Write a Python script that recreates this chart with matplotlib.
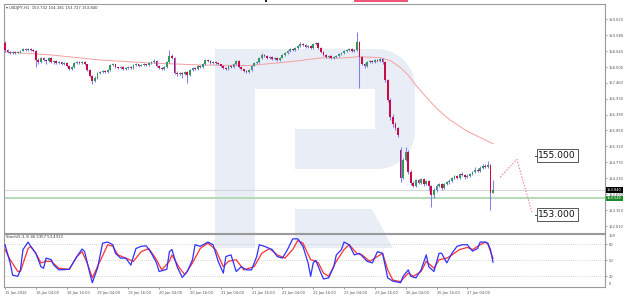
import matplotlib
matplotlib.use("Agg")
import matplotlib.pyplot as plt
from matplotlib.patches import Polygon, Rectangle
import numpy as np

# ---------------- data ----------------
first_open = 158.82
open_gaps = {154: 155.19}
closes = [158.58,158.51,158.48,158.51,158.48,158.51,158.55,158.61,158.58,158.61,
          158.58,158.55,158.24,158.17,158.31,158.24,158.21,158.31,158.17,158.21,
          158.14,158.17,158.10,158.14,158.04,157.93,158.00,158.14,158.17,158.14,
          158.17,158.10,157.90,157.70,157.53,157.63,157.80,157.83,157.87,157.83,
          157.90,158.07,158.10,158.00,157.97,158.00,157.93,157.97,158.00,157.97,
          158.07,158.10,158.04,158.07,158.10,158.07,158.14,158.17,158.21,158.04,
          157.97,157.93,158.00,158.17,158.38,158.31,157.80,157.77,157.80,157.77,
          157.83,157.73,157.90,157.97,157.93,158.04,158.00,158.10,158.24,158.21,
          158.14,158.17,158.14,158.10,158.04,157.97,157.93,158.04,158.00,158.10,
          158.21,158.00,157.93,157.87,157.83,157.90,158.04,158.14,158.17,158.31,
          158.41,158.38,158.31,158.34,158.27,158.31,158.24,158.31,158.41,158.48,
          158.55,158.61,158.58,158.65,158.71,158.78,158.75,158.68,158.71,158.65,
          158.78,158.82,158.65,158.51,158.41,158.34,158.38,158.31,158.34,158.38,
          158.44,158.48,158.55,158.58,158.61,158.55,158.58,158.85,158.34,158.10,
          158.04,158.17,158.21,158.17,158.24,158.21,158.27,158.17,157.56,156.88,
          156.31,156.07,155.93,155.70,154.24,154.85,155.12,154.44,154.07,153.97,
          154.17,154.07,154.20,154.03,154.14,153.97,153.66,153.83,153.97,154.03,
          153.90,154.03,154.10,154.14,154.24,154.31,154.24,154.37,154.34,154.27,
          154.31,154.37,154.44,154.51,154.48,154.58,154.65,154.61,154.68,153.73,
          153.84]
highs = [158.88,158.62,158.55,158.54,158.53,158.55,158.58,158.66,158.64,158.65,
         158.66,158.61,158.57,158.30,158.35,158.34,158.28,158.34,158.33,158.25,
         158.24,158.21,158.20,158.18,158.17,158.07,158.04,158.17,158.22,158.20,
         158.21,158.19,158.12,157.93,157.74,157.68,157.84,157.87,157.90,157.90,
         157.94,158.12,158.14,158.12,158.03,158.04,158.02,158.00,158.04,158.03,
         158.11,158.14,158.12,158.10,158.13,158.12,158.17,158.20,158.26,158.23,
         158.06,158.00,158.03,158.21,158.58,158.45,158.34,157.85,157.84,157.83,
         157.87,157.86,157.93,158.00,158.01,158.07,158.08,158.14,158.28,158.27,
         158.23,158.20,158.19,158.16,158.12,158.06,158.00,158.07,158.07,158.13,
         158.25,158.23,158.02,157.95,157.90,157.94,158.07,158.17,158.22,158.35,
         158.48,158.45,158.40,158.38,158.36,158.35,158.33,158.35,158.45,158.52,
         158.59,158.66,158.65,158.69,158.75,158.84,158.82,158.78,158.75,158.74,
         158.82,158.86,158.84,158.67,158.53,158.43,158.41,158.40,158.37,158.41,
         158.48,158.52,158.59,158.62,158.65,158.64,158.62,159.19,158.88,158.37,
         158.13,158.21,158.25,158.24,158.27,158.27,158.31,158.30,158.20,157.60,
         156.95,156.40,156.12,155.98,155.29,154.92,155.29,155.18,154.50,154.12,
         154.22,154.22,154.24,154.23,154.18,154.17,154.00,153.90,154.02,154.07,
         154.06,154.07,154.14,154.20,154.28,154.35,154.34,154.41,154.44,154.37,
         154.36,154.42,154.48,154.60,154.56,154.63,154.70,154.70,154.80,154.72,
         154.18]
lows = [158.52,158.47,158.44,158.45,158.44,158.46,158.49,158.53,158.55,158.56,
        158.55,158.51,158.00,158.12,158.14,158.20,158.10,158.18,158.13,158.10,
        158.09,158.11,158.06,158.07,158.00,157.90,157.89,157.98,158.11,158.10,
        158.11,158.06,157.86,157.66,157.43,157.48,157.60,157.76,157.80,157.79,
        157.80,157.88,158.03,157.96,157.93,157.94,157.89,157.90,157.94,157.93,
        157.95,158.04,158.01,158.02,158.04,158.03,158.05,158.12,158.15,158.00,
        157.93,157.89,157.90,157.98,158.15,158.27,157.76,157.70,157.72,157.62,
        157.73,157.46,157.70,157.87,157.90,157.91,157.97,157.98,158.08,158.17,
        158.10,158.11,158.10,158.07,158.01,157.93,157.89,157.90,157.96,157.98,
        158.08,157.96,157.89,157.83,157.79,157.80,157.88,158.02,158.11,158.15,
        158.28,158.34,158.27,158.28,158.24,158.24,158.20,158.21,158.29,158.38,
        158.45,158.52,158.54,158.55,158.62,158.68,158.71,158.64,158.65,158.61,
        158.62,158.75,158.61,158.47,158.37,158.30,158.31,158.27,158.28,158.31,
        158.35,158.41,158.45,158.52,158.55,158.51,158.52,158.56,157.29,158.06,
        157.98,158.01,158.14,158.13,158.14,158.17,158.18,158.12,157.50,156.80,
        156.22,155.98,155.85,155.62,154.10,154.20,154.80,154.38,154.00,153.92,
        153.93,154.02,154.03,153.97,153.99,153.80,153.26,153.55,153.78,153.92,
        153.84,153.86,153.99,154.05,154.10,154.20,154.19,154.21,154.30,154.22,
        154.23,154.27,154.33,154.40,154.44,154.44,154.54,154.56,154.57,153.15,
        153.73]

ma_idx = [0, 18, 37, 56, 76, 95, 111, 123, 130, 138, 146, 150, 154, 157, 160, 164, 168, 173, 180, 190]
ma_val = [158.51, 158.41, 158.24, 158.14, 158.07, 158.05, 158.18, 158.31, 158.30, 158.35,
          158.32, 158.22, 157.98, 157.72, 157.38, 156.98, 156.60, 156.22, 155.82, 155.40]

fc_idx = [192.8, 199.3, 205.1]
fc_val = [154.27, 154.87, 153.09]
targets = ["155.000", "153.000"]
target_vals = [155.0, 153.0]

k_idx = [0,2,3,5,6,7,9,10,12,14,15,16,18,19,21,25,28,30,31,33,34,36,38,40,42,43,45,47,49,50,
         51,53,55,57,59,60,63,64,65,67,69,71,73,74,76,79,81,83,85,86,88,90,92,94,96,98,99,101,
         104,106,108,110,112,114,116,118,119,120,121,123,124,126,128,129,131,132,134,136,138,
         141,143,145,147,149,151,154,155,157,158,160,162,164,165,167,169,170,172,174,176,178,
         180,182,184,185,187,188,189,190]
k_val = [79,45,22,20,32,70,84,76,63,38,35,54,51,41,32,33,57,71,66,26,8,35,82,84,79,63,54,54,41,57,
         72,76,77,63,45,29,33,66,70,38,18,29,51,79,76,84,79,48,26,57,60,29,38,32,32,57,79,76,
         70,57,54,70,90,90,76,45,20,45,50,26,15,17,38,60,70,84,79,60,63,
         48,45,66,63,17,11,8,20,32,20,17,32,60,38,29,63,63,45,63,76,79,
         79,67,72,84,84,82,70,46.54]
d_idx = [0,2,5,6,9,10,12,14,16,18,21,25,28,30,32,34,36,40,42,44,47,50,53,56,59,61,64,65,68,70,
         73,76,79,82,85,87,90,93,97,100,103,106,109,112,114,116,119,121,122,124,126,129,132,134,
         137,139,142,145,147,149,151,154,157,159,162,164,167,169,172,174,177,180,182,185,187,188,190]
d_val = [70,51,29,29,72,76,63,45,48,48,35,33,57,66,45,17,38,79,76,60,54,48,66,72,51,32,48,60,35,23,
         45,72,82,70,38,48,51,32,38,63,72,60,54,70,87,82,51,48,45,26,20,48,70,79,
         63,60,48,57,63,32,13,10,26,20,29,48,35,51,54,60,70,74,70,79,84,80,53.43]

price_ticks = [159.620,159.080,158.540,158.000,157.460,156.930,156.390,155.850,155.310,
               154.770,154.230,153.690,153.150,152.610]
date_labels = ["15 Jan 2026","16 Jan 04:00","16 Jan 16:00","19 Jan 04:00","19 Jan 16:00",
               "20 Jan 04:00","20 Jan 16:00","21 Jan 04:00","21 Jan 16:00","22 Jan 04:00",
               "22 Jan 16:00","23 Jan 04:00","23 Jan 16:00","26 Jan 04:00","26 Jan 16:00",
               "27 Jan 04:00"]
date_idx = [0,12,24,36,48,60,72,84,96,108,120,132,144,156,168,180]
bid_price = 153.840
level_price = 153.545

# ---------------- figure ----------------
W, H = 635, 304
fig = plt.figure(figsize=(W/100, H/100), dpi=100)
fig.patch.set_facecolor("white")

# background watermark (pixel coordinates)
bg = fig.add_axes([0, 0, 1, 1], zorder=0)
bg.set_xlim(0, W); bg.set_ylim(H, 0); bg.axis("off")
wm = "#e9edf5"
bg.add_patch(Rectangle((215, 49), 40, 199, color=wm, lw=0))
def arc(cx, cy, r, a0, a1, n=14):
    t = np.linspace(np.radians(a0), np.radians(a1), n)
    return list(zip(cx + r*np.cos(t), cy + r*np.sin(t)))
bowl = [(255, 49)] + arc(377, 87, 38, -90, 0) + arc(377, 131, 38, 0, 90) + \
       [(295, 169), (295, 129), (375, 129), (375, 89), (255, 89)]
bg.add_patch(Polygon(bowl, closed=True, color=wm, lw=0))
bg.add_patch(Polygon([(295, 209), (372, 209), (393, 248), (295, 248)], closed=True, color=wm, lw=0))
# cropped title remnants at the very top
bg.add_patch(Rectangle((354, 0), 54, 2.2, color="#f0577a", lw=0))
bg.add_patch(Rectangle((265, 0), 2, 1.5, color="#222222", lw=0))

L, R = 4, 605
T1, B1 = 4, 232.7
T2, B2 = 233.5, 287
ax = fig.add_axes([L/W, 1-B1/H, (R-L)/W, (B1-T1)/H], zorder=2)
ax2 = fig.add_axes([L/W, 1-B2/H, (R-L)/W, (B2-T2)/H], zorder=2, sharex=ax)
for a in (ax, ax2):
    a.set_facecolor("none")
    for s in a.spines.values():
        s.set_color("#9a9a9a"); s.set_linewidth(0.8)

x0 = -0.39
x1 = 233.6
ax.set_xlim(x0, x1)
ax.set_ylim(152.383, 160.138)

n = len(closes)
idx = np.arange(n)
opens = [first_open] + closes[:-1]
for k, v in open_gaps.items():
    opens[k] = v
o = np.array(opens); c = np.array(closes)
hi = np.array(highs); lo = np.array(lows)

# horizontal lines
ax.axhline(bid_price, color="#d8d8d8", lw=0.8, zorder=1)
ax.axhline(level_price, color="#b5dbb5", lw=1.4, zorder=1)

wick_col = "#8080f0"
ax.vlines(idx, lo, hi, color=wick_col, lw=0.75, zorder=3)
up = c >= o
body_bot = np.minimum(o, c)
body_h = np.maximum(np.abs(c - o), 0.015)
ax.bar(idx[up], body_h[up], bottom=body_bot[up], width=0.7, color="#2f9a5a", lw=0, zorder=4)
ax.bar(idx[~up], body_h[~up], bottom=body_bot[~up], width=0.7, color="#cc0a48", lw=0, zorder=4)

ax.plot(ma_idx, ma_val, color="#f4a0a0", lw=0.7, zorder=2)
ax.plot(fc_idx, fc_val, color="#f07a8a", lw=0.8, ls=(0, (1.2, 1.5)), zorder=2)

for lab, v in zip(targets, target_vals):
    ax.plot([206.4, 207.6], [v, v], color="#444444", lw=0.7, zorder=5)
    ax.text(207.6, v, lab, fontsize=6.6, va="center", ha="left", color="#111111", zorder=6,
            bbox=dict(boxstyle="square,pad=0.18", fc="white", ec="#555555", lw=0.7))

# right axis price labels
ax.yaxis.tick_right()
ax.set_yticks(price_ticks)
ax.set_yticklabels([f"{t:.3f}" for t in price_ticks])
ax.tick_params(axis="y", labelsize=2.6, colors="#555555", length=1.5, width=0.4, pad=1.2)
ax.tick_params(axis="x", bottom=False, labelbottom=False)
tr = ax.get_yaxis_transform()
ax.text(1.003, bid_price, f"{bid_price:.3f}", transform=tr, fontsize=2.6, color="white",
        va="center", ha="left", bbox=dict(boxstyle="square,pad=0.25", fc="black", ec="none"),
        clip_on=False, zorder=7)
ax.text(1.003, level_price, f"{level_price:.3f}", transform=tr, fontsize=2.6, color="white",
        va="center", ha="left", bbox=dict(boxstyle="square,pad=0.25", fc="#1e8a28", ec="none"),
        clip_on=False, zorder=7)

fig.text(6/W, 1-8/H, "\u25be USDJPY,H1  153.732 154.181 153.727 153.840", fontsize=2.7,
         color="#333333", va="center", ha="left")

# ---------------- stochastic ----------------
ax2.set_ylim(0, 100)
for lv in (80, 50, 20):
    ax2.axhline(lv, color="#c8c8c8", lw=0.6, ls=(0, (1, 1.5)), zorder=1)
ax2.plot(d_idx, d_val, color="#ff3030", lw=0.9, zorder=3)
ax2.plot(k_idx, k_val, color="#3030ff", lw=0.9, zorder=4)
ax2.yaxis.tick_right()
ax2.set_yticks([80, 50, 20])
ax2.set_yticklabels(["80", "50", "20"])
ax2.tick_params(axis="y", labelsize=2.6, colors="#555555", length=1.5, width=0.4, pad=1.2)
tr2 = ax2.get_yaxis_transform()
ax2.text(1.006, 95.5, "100", transform=tr2, fontsize=2.6, color="#555555", va="center", ha="left")
ax2.text(1.006, 5, "0", transform=tr2, fontsize=2.6, color="#555555", va="center", ha="left")
fig.text(6/W, 1-237/H, "Stoch(5,3,3) 46.5357 53.4313", fontsize=2.7, color="#333333",
         va="center", ha="left")

ax2.set_xticks(date_idx)
ax2.set_xticklabels(date_labels)
ax2.tick_params(axis="x", labelsize=2.6, colors="#555555", length=1.5, width=0.4, pad=1.5)
for t in ax2.get_xticklabels():
    t.set_ha("left")
ax2.set_xlim(x0, x1)

fig.savefig("out.png", dpi=100, facecolor="white")
